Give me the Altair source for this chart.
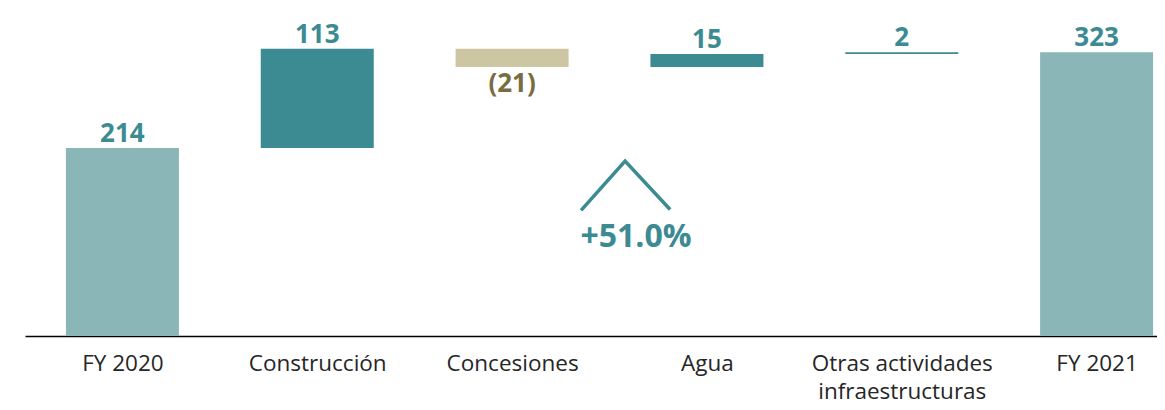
import altair as alt
import pandas as pd

categories = ["FY 2020", "Construcción", "Concesiones", "Agua", "Otras actividades\ninfraestructuras", "FY 2021"]
changes = [214, 113, -21, 15, 2, 323]
kinds = ["total", "delta", "delta", "delta", "delta", "total"]
labels = ["214", "113", "(21)", "15", "2", "323"]

# compute waterfall starts / ends
starts, ends = [], []
run = 0
for v, k in zip(changes, kinds):
    if k == "total":
        starts.append(0); ends.append(v); run = v
    else:
        starts.append(run); ends.append(run + v); run = run + v

bar_colors = ["#8AB6B7", "#3C8A92", "#CCC6A2", "#3C8A92", "#3C8A92", "#8AB6B7"]
label_colors = ["#3C8A92", "#3C8A92", "#7A6C42", "#3C8A92", "#3C8A92", "#3C8A92"]

rows = []
for i, c in enumerate(categories):
    lo, hi = min(starts[i], ends[i]), max(starts[i], ends[i])
    neg = changes[i] < 0
    rows.append(dict(idx=i, cat=c, lo=lo, hi=hi, x0=i - 0.29, x1=i + 0.29,
                     bar=bar_colors[i], lab=labels[i], lc=label_colors[i],
                     ly=lo if neg else hi, neg=neg))
df = pd.DataFrame(rows)

# growth annotation (caret + text), in data units
caret_x = [2.354, 2.58, 2.811]
caret_y = [143, 199, 144]
growth_text = "+51.0%"
growth_x = 2.636
growth_y = 113

xs = alt.Scale(domain=[-0.5, 5.31], nice=False, zero=False)
ys = alt.Scale(domain=[0, 371], nice=False, zero=True)

label_expr = "split(['FY 2020','Construcción','Concesiones','Agua','Otras actividades\\ninfraestructuras','FY 2021'][datum.value], '\\n')"

base = alt.Chart(df)

bars = base.mark_rect().encode(
    x=alt.X("x0:Q", scale=xs, axis=alt.Axis(values=[0, 1, 2, 3, 4, 5], labelExpr=label_expr,
                                             title=None, grid=False, ticks=False,
                                             domainColor="#000000", domainWidth=1.5,
                                             labelFont="Open Sans", labelFontSize=22.5,
                                             labelColor="#262626", labelPadding=16,
                                             labelLineHeight=28, labelBaseline="top",
                                             labelLimit=400, labelOverlap=False)),
    x2="x1:Q",
    y=alt.Y("lo:Q", scale=ys, axis=None),
    y2="hi:Q",
    color=alt.Color("bar:N", scale=None),
)

pos_labels = base.transform_filter("!datum.neg").mark_text(
    font="Open Sans", fontWeight="bold", fontSize=26, baseline="bottom", dy=-1
).encode(
    x=alt.X("idx:Q", scale=xs), y=alt.Y("ly:Q", scale=ys),
    text="lab:N", color=alt.Color("lc:N", scale=None),
)

neg_labels = base.transform_filter("datum.neg").mark_text(
    font="Open Sans", fontWeight="bold", fontSize=26, baseline="top", dy=4
).encode(
    x=alt.X("idx:Q", scale=xs), y=alt.Y("ly:Q", scale=ys),
    text="lab:N", color=alt.Color("lc:N", scale=None),
)

caret = alt.Chart(pd.DataFrame({"x": caret_x, "y": caret_y, "o": [0, 1, 2]})).mark_line(
    color="#3C8A92", strokeWidth=3.5
).encode(x=alt.X("x:Q", scale=xs), y=alt.Y("y:Q", scale=ys), order="o:Q")

growth = alt.Chart(pd.DataFrame({"x": [growth_x], "y": [growth_y], "t": [growth_text]})).mark_text(
    font="Open Sans", fontWeight="bold", fontSize=32, color="#3C8A92", baseline="middle"
).encode(x=alt.X("x:Q", scale=xs), y=alt.Y("y:Q", scale=ys), text="t:N")

chart = alt.layer(bars, pos_labels, neg_labels, caret, growth).properties(
    width=1132, height=326,
    autosize=alt.AutoSizeParams(type="none"),
    padding={"left": 17, "top": 2, "right": 0, "bottom": 72},
).configure(background="white").configure_view(stroke=None, strokeWidth=0)

chart.save("out.html", embed_options={"renderer": "svg", "actions": False})
